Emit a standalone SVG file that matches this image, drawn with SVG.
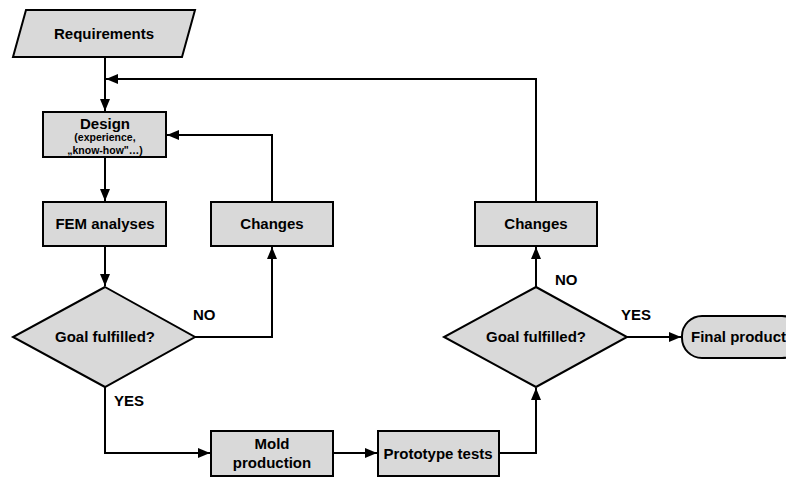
<svg xmlns="http://www.w3.org/2000/svg" width="786" height="477" viewBox="0 0 786 477">
<style>
.box{fill:#d9d9d9;stroke:#000;stroke-width:2}
.ln{fill:none;stroke:#000;stroke-width:2}
text{font-family:"Liberation Sans",Arial,sans-serif;font-weight:bold;font-size:15px;fill:#000;text-anchor:middle}
.sm{font-size:10.5px}
.lbl{text-anchor:start}
</style>
<defs>
<marker id="ah" viewBox="0 0 12 10" refX="12" refY="5" markerWidth="12" markerHeight="10" markerUnits="userSpaceOnUse" orient="auto">
<path d="M0,0 L12,5 L0,10 Z" fill="#000"/>
</marker>
</defs>
<rect width="786" height="477" fill="#fff"/>
<g id="connectors">
<path class="ln" d="M105,57 V111" marker-end="url(#ah)"/>
<path class="ln" d="M536,202 V79 H106" marker-end="url(#ah)"/>
<path class="ln" d="M272,202 V135 H167" marker-end="url(#ah)"/>
<path class="ln" d="M105,157 V201" marker-end="url(#ah)"/>
<path class="ln" d="M105,246 V286" marker-end="url(#ah)"/>
<path class="ln" d="M195,337 H272 V247" marker-end="url(#ah)"/>
<path class="ln" d="M105,387 V453 H210" marker-end="url(#ah)"/>
<path class="ln" d="M333,453 H377" marker-end="url(#ah)"/>
<path class="ln" d="M499,453 H536 V388" marker-end="url(#ah)"/>
<path class="ln" d="M536,287 V247" marker-end="url(#ah)"/>
<path class="ln" d="M627,337 H681" marker-end="url(#ah)"/>
</g>
<g id="requirements">
<polygon class="box" points="26,10 195,10 182,57 13,57"/>
<text x="104" y="39">Requirements</text>
</g>
<g id="design">
<rect class="box" x="43" y="112" width="123" height="45"/>
<text x="105" y="129">Design</text>
<text class="sm" x="105" y="141">(experience,</text>
<text class="sm" x="105" y="154">„know-how"…)</text>
</g>
<g id="fem">
<rect class="box" x="43" y="202" width="123" height="44"/>
<text x="105" y="229">FEM analyses</text>
</g>
<g id="changes1">
<rect class="box" x="211" y="202" width="122" height="44"/>
<text x="272" y="229">Changes</text>
</g>
<g id="goal1">
<polygon class="box" points="105,287 195,337 105,387 13,337"/>
<text x="105" y="342">Goal fulfilled?</text>
</g>
<g id="labels">
<text class="lbl" x="193" y="320">NO</text>
<text class="lbl" x="114" y="406">YES</text>
<text class="lbl" x="555" y="285">NO</text>
<text class="lbl" x="621" y="320">YES</text>
</g>
<g id="mold">
<rect class="box" x="211" y="431" width="122" height="45"/>
<text x="272" y="449">Mold</text>
<text x="272" y="468">production</text>
</g>
<g id="proto">
<rect class="box" x="378" y="431" width="121" height="45"/>
<text x="438" y="459">Prototype tests</text>
</g>
<g id="goal2">
<polygon class="box" points="536,287 627,337 536,387 444,337"/>
<text x="536" y="342">Goal fulfilled?</text>
</g>
<g id="changes2">
<rect class="box" x="475" y="202" width="122" height="44"/>
<text x="536" y="229">Changes</text>
</g>
<g id="final">
<rect class="box" x="682" y="316" width="120" height="42" rx="20" ry="20"/>
<text class="lbl" x="691" y="342">Final product</text>
</g>
</svg>
